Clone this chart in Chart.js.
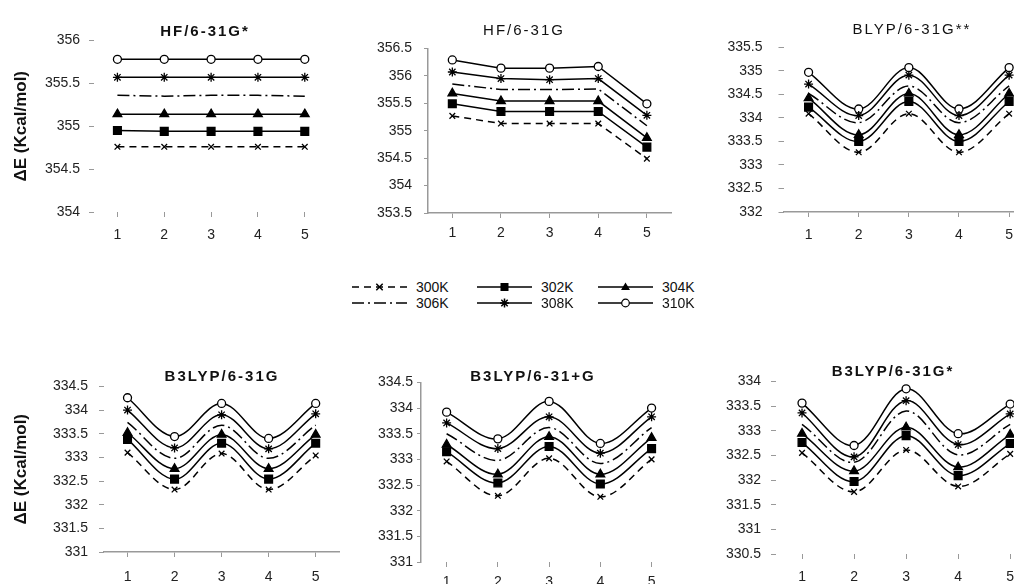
<!DOCTYPE html>
<html>
<head>
<meta charset="utf-8">
<script src="https://cdn.jsdelivr.net/npm/chart.js@4.4.0/dist/chart.umd.min.js"></script>
<style>
html,body{margin:0;padding:0;background:#fff;}
body{width:1014px;height:584px;overflow:hidden;position:relative;font-family:"Liberation Sans",Arial,sans-serif;color:#111;}
canvas{position:absolute;}
.ttl{position:absolute;font-size:15px;font-weight:bold;letter-spacing:2px;white-space:nowrap;transform:translate(-50%,-50%);color:#111;}
.lg{position:absolute;font-size:14px;white-space:nowrap;transform:translateY(-50%);color:#111;}
svg.ls{position:absolute;overflow:visible;}
</style>
</head>
<body>
<script>
// ---------- data ----------
const categories = ['1', '2', '3', '4', '5'];
const seriesNames = ['300K', '302K', '304K', '306K', '308K', '310K'];
const panelTitles = ['HF/6-31G*', 'HF/6-31G', 'BLYP/6-31G**', 'B3LYP/6-31G', 'B3LYP/6-31+G', 'B3LYP/6-31G*'];
const yAxisTitle = 'ΔE (Kcal/mol)';
// y-axis ranges (tick step 0.5)
const yMin = [354, 353.5, 332, 331, 331, 330.5];
const yMax = [356, 356.5, 335.5, 334.5, 334.5, 334];
const yStep = 0.5;

// rows: 300K, 302K, 304K, 306K, 308K, 310K
const valuesHF631Gstar = [
  [354.76, 354.76, 354.76, 354.76, 354.76],
  [354.95, 354.94, 354.94, 354.94, 354.94],
  [355.14, 355.14, 355.14, 355.14, 355.14],
  [355.36, 355.35, 355.36, 355.36, 355.35],
  [355.57, 355.57, 355.57, 355.57, 355.57],
  [355.78, 355.78, 355.78, 355.78, 355.78]
];
const valuesHF631G = [
  [355.27, 355.13, 355.13, 355.13, 354.49],
  [355.49, 355.35, 355.35, 355.35, 354.70],
  [355.68, 355.54, 355.54, 355.54, 354.87],
  [355.85, 355.75, 355.75, 355.76, 355.09],
  [356.07, 355.95, 355.93, 355.95, 355.28],
  [356.29, 356.14, 356.14, 356.17, 355.49]
];
const valuesBLYP631Gss = [
  [334.09, 333.27, 334.09, 333.27, 334.09],
  [334.23, 333.50, 334.35, 333.50, 334.35],
  [334.42, 333.64, 334.52, 333.64, 334.52],
  [334.52, 333.90, 334.68, 333.90, 334.68],
  [334.72, 334.05, 334.91, 334.05, 334.91],
  [334.97, 334.19, 335.07, 334.19, 335.07]
];
const valuesB3LYP631G = [
  [333.10, 332.32, 333.08, 332.32, 333.04],
  [333.38, 332.54, 333.30, 332.54, 333.30],
  [333.52, 332.76, 333.48, 332.76, 333.48],
  [333.74, 332.98, 333.68, 332.98, 333.68],
  [334.00, 333.20, 333.90, 333.18, 333.92],
  [334.26, 333.44, 334.14, 333.40, 334.14]
];
const valuesB3LYP631pG = [
  [332.96, 332.29, 333.02, 332.27, 333.00],
  [333.15, 332.54, 333.25, 332.52, 333.21],
  [333.29, 332.71, 333.44, 332.71, 333.42],
  [333.50, 332.98, 333.62, 332.92, 333.62],
  [333.71, 333.21, 333.83, 333.12, 333.83],
  [333.92, 333.40, 334.13, 333.31, 334.00]
];
const valuesB3LYP631Gstar = [
  [332.55, 331.76, 332.61, 331.87, 332.53],
  [332.76, 331.97, 332.90, 332.09, 332.74],
  [332.94, 332.18, 333.07, 332.26, 332.92],
  [333.13, 332.36, 333.40, 332.51, 333.13],
  [333.36, 332.47, 333.61, 332.72, 333.34],
  [333.56, 332.70, 333.85, 332.94, 333.54]
];
const panelValues = [valuesHF631Gstar, valuesHF631G, valuesBLYP631Gss, valuesB3LYP631G, valuesB3LYP631pG, valuesB3LYP631Gstar];

// ---------- styles ----------
const FONT = '"Liberation Sans", Arial, sans-serif';
const seriesStyle = [
  {dash: [7, 5], point: 'crossRot', r: 4, fill: '#000'},
  {dash: [], point: 'rect', r: 5.5, fill: '#000'},
  {dash: [], point: 'triangle', r: 5, fill: '#000'},
  {dash: [12, 4, 2, 4], point: 'circle', r: 0, fill: '#000'},
  {dash: [], point: 'star', r: 4.5, fill: '#000'},
  {dash: [], point: 'circle', r: 4, fill: '#fff'}
];

// layout per panel
const layout = [
  {cx: 0,   t: 33,  b: 212, w: 335, yw: 94,   yTick: 5, yPad: 9,  xPad: 9.6, yBorder: false, xBorder: false, yTitle: true,  tension: 0,   title: [205, 30]},
  {cx: 345, t: 38,  b: 213, w: 333, yw: 83,   yTick: 4, yPad: 12, xPad: 6.6, yBorder: true,  xBorder: true,  yTitle: false, tension: 0,   title: [524, 29]},
  {cx: 700, t: 33,  b: 212, w: 341, yw: 83.5, yTick: 5, yPad: 16, xPad: 9.6, yBorder: false, xBorder: true,  yTitle: false, tension: 0.35, title: [912, 28]},
  {cx: 0,   t: 377, b: 552, w: 346, yw: 104,  yTick: 5, yPad: 11, xPad: 11.6, yBorder: false, xBorder: true, yTitle: true,  tension: 0.35, title: [222, 375]},
  {cx: 350, t: 380, b: 562, w: 334, yw: 71,   yTick: 4, yPad: 4,  xPad: 6.6, yBorder: true,  xBorder: false, yTitle: false, tension: 0.35, title: [533, 375]},
  {cx: 700, t: 373, b: 554, w: 343, yw: 76,   yTick: 5, yPad: 10, xPad: 9.6, yBorder: false, xBorder: false, yTitle: false, tension: 0.35, title: [893, 370]}
];

Chart.defaults.font.family = FONT;
Chart.defaults.color = '#222';

const fmtTick = v => String(Number(Number(v).toFixed(2)));

layout.forEach((L, i) => {
  const cv = document.createElement('canvas');
  const top = L.t - 10;
  const h = L.b - L.t + 50;
  cv.width = L.w; cv.height = h;
  cv.style.left = L.cx + 'px'; cv.style.top = top + 'px';
  cv.style.width = L.w + 'px'; cv.style.height = h + 'px';
  document.body.appendChild(cv);

  const datasets = panelValues[i].map((vals, k) => ({
    label: seriesNames[k],
    data: vals,
    borderColor: '#000',
    borderWidth: 1.5,
    borderDash: seriesStyle[k].dash,
    tension: L.tension,
    pointStyle: seriesStyle[k].point,
    pointRadius: seriesStyle[k].r,
    pointBackgroundColor: seriesStyle[k].fill,
    pointBorderColor: '#000',
    pointBorderWidth: 1.3,
    fill: false
  }));

  new Chart(cv, {
    type: 'line',
    data: {labels: categories, datasets},
    options: {
      responsive: false,
      animation: false,
      devicePixelRatio: 1,
      layout: {padding: {top: 10, left: 0, right: 0, bottom: 0}},
      plugins: {legend: {display: false}, tooltip: {enabled: false}, title: {display: false}},
      scales: {
        x: {
          offset: true,
          grid: {display: true, drawOnChartArea: false, drawTicks: true, tickLength: 5, offset: false, color: '#999'},
          border: {display: L.xBorder, color: '#999', width: 1.5},
          ticks: {font: {size: 14}, color: '#222', padding: L.xPad, maxRotation: 0},
          afterFit: s => { s.height = 40; }
        },
        y: {
          min: yMin[i], max: yMax[i],
          grid: {display: true, drawOnChartArea: false, drawTicks: true, tickLength: L.yTick, color: '#999'},
          border: {display: L.yBorder, color: '#999', width: 1.5},
          ticks: {stepSize: yStep, font: {size: 14}, color: '#222', padding: L.yPad, callback: fmtTick},
          title: {display: L.yTitle, text: yAxisTitle, font: {size: 17, weight: 'bold'}, color: '#111', padding: {top: 10.8, bottom: 0}},
          afterFit: s => { s.width = L.yw; }
        }
      }
    }
  });

  const d = document.createElement('div');
  d.className = 'ttl';
  d.textContent = panelTitles[i];
  d.style.left = L.title[0] + 'px';
  d.style.top = L.title[1] + 'px';
  if (i === 1 || i === 2) d.style.fontWeight = 'normal';
  document.body.appendChild(d);
});

// ---------- legend ----------
const legendCols = [352, 477, 598];
const legendRows = [287, 303];
const NS = 'http://www.w3.org/2000/svg';
seriesNames.forEach((name, k) => {
  const x0 = legendCols[k % 3], y0 = legendRows[Math.floor(k / 3)];
  const st = seriesStyle[k];
  const svg = document.createElementNS(NS, 'svg');
  svg.setAttribute('class', 'ls');
  svg.setAttribute('width', 56); svg.setAttribute('height', 14);
  svg.style.left = x0 + 'px'; svg.style.top = (y0 - 7) + 'px';
  const ln = document.createElementNS(NS, 'line');
  ln.setAttribute('x1', 0); ln.setAttribute('y1', 7); ln.setAttribute('x2', 55); ln.setAttribute('y2', 7);
  ln.setAttribute('stroke', '#000'); ln.setAttribute('stroke-width', 1.5);
  if (st.dash.length) ln.setAttribute('stroke-dasharray', st.dash.join(' '));
  svg.appendChild(ln);
  const cx = 27.5, cy = 7;
  let m = null;
  if (st.point === 'rect') {
    m = document.createElementNS(NS, 'rect');
    m.setAttribute('x', cx - 4); m.setAttribute('y', cy - 4); m.setAttribute('width', 8); m.setAttribute('height', 8);
    m.setAttribute('fill', '#000');
  } else if (st.point === 'triangle') {
    m = document.createElementNS(NS, 'polygon');
    m.setAttribute('points', `${cx},${cy - 4.5} ${cx + 4.5},${cy + 3} ${cx - 4.5},${cy + 3}`);
    m.setAttribute('fill', '#000');
  } else if (st.point === 'circle' && st.r > 0) {
    m = document.createElementNS(NS, 'circle');
    m.setAttribute('cx', cx); m.setAttribute('cy', cy); m.setAttribute('r', 3.8);
    m.setAttribute('fill', '#fff'); m.setAttribute('stroke', '#000'); m.setAttribute('stroke-width', 1.2);
  } else if (st.point === 'crossRot' || st.point === 'star') {
    m = document.createElementNS(NS, 'path');
    const a = 3.2;
    let p = `M${cx - a},${cy - a}L${cx + a},${cy + a}M${cx - a},${cy + a}L${cx + a},${cy - a}`;
    if (st.point === 'star') p += `M${cx},${cy - 4.5}L${cx},${cy + 4.5}M${cx - 4.5},${cy}L${cx + 4.5},${cy}`;
    m.setAttribute('d', p); m.setAttribute('stroke', '#000'); m.setAttribute('stroke-width', 1.5); m.setAttribute('fill', 'none');
  }
  if (m) svg.appendChild(m);
  document.body.appendChild(svg);
  const t = document.createElement('div');
  t.className = 'lg';
  t.textContent = name;
  t.style.left = (x0 + 64) + 'px';
  t.style.top = y0 + 'px';
  document.body.appendChild(t);
});
</script>
</body>
</html>
